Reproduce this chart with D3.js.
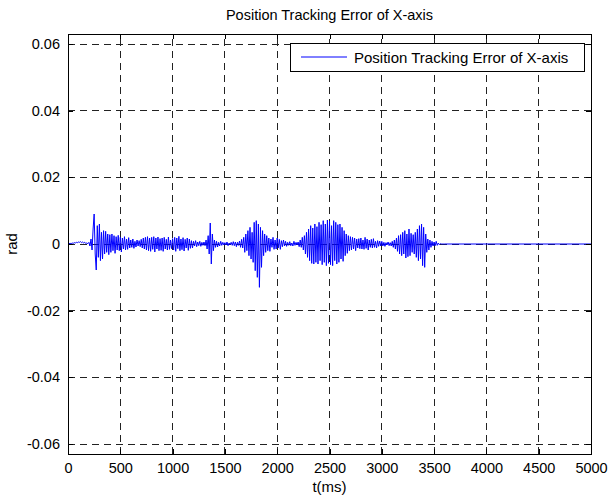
<!DOCTYPE html>
<html>
<head>
<meta charset="utf-8">
<script src="https://cdn.jsdelivr.net/npm/d3@7"></script>
<style>
  html, body { margin: 0; padding: 0; background: #fff; }
  svg { display: block; font-family: "Liberation Sans", Arial, Helvetica, sans-serif; }
</style>
</head>
<body>
<svg id="chart" width="608" height="499"></svg>
<script>
// tracking error, sampled every 10 ms from 0 to 3590 ms, in milli-radians
const sampleStep = 10;
const errorMrad = [
  0, 0.1, 0.2, 0.1, 0.3, 0.2, 0.4, 0.3, 0.5, 0.4,
  0.6, 0.5, 0.7, 0.4, 0.6, 0.3, 0.5, 0.2, 0.3, 0.1,
  0.5, -0.6, 1.5, -1.8, 4.5, 9.0, -3.0, -7.8, 5.5, -4.0,
  6.0, -5.0, 3.5, -4.5, 4.0, -3.0, 3.8, -2.5, 3.0, -3.2,
  2.8, -2.5, 3.0, -2.0, 2.5, -2.8, 2.2, -1.8, 2.6, -2.0,
  2.0, -2.4, 1.8, -1.5, 2.2, -1.8, 1.5, -1.6, 1.9, -1.2,
  1.2, -1.0, 1.5, -1.3, 0.8, -0.9, 1.2, -0.6, 1.0, -0.8,
  1.4, -1.2, 1.8, -1.5, 2.0, -1.8, 2.2, -2.0, 1.8, -2.2,
  2.0, -1.6, 2.2, -2.4, 1.8, -1.5, 2.1, -2.0, 1.6, -1.9,
  1.8, -2.2, 2.0, -1.5, 1.4, -1.8, 2.1, -1.6, 1.2, -1.4,
  1.6, -1.8, 2.0, -2.2, 1.8, -1.4, 2.3, -2.0, 1.5, -1.7,
  1.9, -2.1, 1.4, -1.2, 1.8, -1.9, 1.5, -1.3, 1.0, -1.2,
  0.8, -0.6, 1.0, -0.8, 0.6, -0.5, 0.8, -0.7, 0.5, -0.4,
  0.6, -0.5, 1.2, -1.5, 2.5, -3.0, 6.3, -6.0, 3.0, -2.0,
  1.2, -1.0, 0.8, -0.9, 0.5, -0.6, 0.8, -0.4, 0.5, -0.3,
  0.4, -0.3, 0.6, -0.5, 0.3, -0.2, 0.5, -0.4, 0.7, -0.5,
  0.6, -0.8, 0.5, -0.4, 0.9, -1.0, 1.4, -1.2, 2.0, -2.5,
  3.0, -2.0, 4.0, -3.5, 5.0, -4.5, 3.5, -5.5, 6.5, -8.0,
  7.0, -10.0, 6.0, -13.0, 5.0, -7.0, 4.0, -3.5, 3.0, -2.5,
  2.5, -2.0, 1.8, -2.2, 1.5, -1.0, 2.0, -1.6, 1.2, -1.5,
  1.8, -1.2, 1.4, -1.6, 1.0, -0.8, 1.2, -0.6, 0.8, -0.7,
  0.5, -0.4, 0.7, -0.5, 0.3, -0.6, 0.8, -0.4, 0.5, -0.3,
  0.6, -0.8, 1.2, -1.0, 2.0, -1.8, 2.5, -3.0, 3.5, -4.0,
  4.5, -5.0, 5.5, -5.8, 4.8, -6.0, 6.0, -5.5, 5.2, -6.0,
  6.5, -5.0, 5.8, -6.2, 7.0, -5.5, 6.0, -6.5, 7.2, -5.8,
  6.8, -6.2, 5.5, -6.5, 7.0, -5.0, 6.5, -6.0, 5.8, -5.5,
  6.0, -4.5, 5.0, -5.2, 4.0, -3.5, 3.0, -2.8, 2.5, -2.0,
  2.2, -1.8, 2.0, -1.5, 1.8, -2.0, 1.5, -1.2, 1.6, -1.4,
  1.8, -1.5, 1.2, -1.6, 2.0, -1.3, 1.5, -1.8, 1.2, -1.0,
  1.4, -1.2, 1.6, -1.0, 0.8, -1.2, 1.0, -0.7, 0.9, -0.6,
  0.8, -0.6, 0.5, -0.7, 0.4, -0.3, 0.6, -0.5, 0.4, -0.6,
  0.8, -1.0, 1.2, -1.5, 1.8, -2.2, 2.5, -3.0, 2.8, -3.5,
  3.5, -3.0, 4.0, -4.2, 3.0, -3.8, 4.5, -3.5, 3.2, -2.5,
  2.8, -3.0, 3.5, -4.0, 4.5, -5.0, 5.5, -4.5, 6.0, -6.5,
  5.0, -7.0, 3.0, -2.5, 1.5, -1.8, 1.2, -1.0, 0.8, -0.6,
  0.6, -0.5, 0.8, -0.4, 0.3, -0.2, 0.1, 0, 0, 0
];
// after the motion ends the error stays at zero
const tailTimes = [3600, 5000];
const tailValues = [0, 0];

const xTicks = [0, 500, 1000, 1500, 2000, 2500, 3000, 3500, 4000, 4500, 5000];
const yTicks = [-0.06, -0.04, -0.02, 0, 0.02, 0.04, 0.06];
const yTickLabels = ['-0.06', '-0.04', '-0.02', '0', '0.02', '0.04', '0.06'];

const titleText = 'Position Tracking Error of X-axis';
const legendText = 'Position Tracking Error of X-axis';

const svg = d3.select('#chart');
const m = { left: 68, right: 17, top: 34, bottom: 45 };
const W = 608, H = 499;
const pw = W - m.left - m.right, ph = H - m.top - m.bottom;

const x = d3.scaleLinear().domain([0, 5000]).range([0, pw]);
const y = d3.scaleLinear().domain([-0.063, 0.063]).range([ph, 0]);

let points = errorMrad.map((v, i) => [i * sampleStep, v / 1000]);
tailTimes.forEach((t, i) => points.push([t, tailValues[i]]));

const g = svg.append('g').attr('transform', `translate(${m.left},${m.top})`);

g.append('rect').attr('width', pw).attr('height', ph).attr('fill', '#fff');

// grid
g.append('g').selectAll('line').data(xTicks.slice(1, -1)).join('line')
  .attr('x1', d => x(d)).attr('x2', d => x(d))
  .attr('y1', ph).attr('y2', 0)
  .attr('stroke', '#222').attr('stroke-width', 1)
  .attr('stroke-dasharray', '7,5')
  .attr('shape-rendering', 'crispEdges');
g.append('g').selectAll('line').data(yTicks).join('line')
  .attr('x1', 0).attr('x2', pw)
  .attr('y1', d => y(d)).attr('y2', d => y(d))
  .attr('stroke', '#222').attr('stroke-width', 1)
  .attr('stroke-dasharray', '7,5')
  .attr('shape-rendering', 'crispEdges');

// signal
const line = d3.line().x(d => x(d[0])).y(d => y(d[1]));
g.append('path').datum(points)
  .attr('d', line)
  .attr('fill', 'none')
  .attr('stroke', '#0000ff')
  .attr('stroke-width', 1);

// axes with inward ticks on all four sides
const tickLen = 5;
const xb = g.append('g').attr('transform', `translate(0,${ph})`)
  .call(d3.axisBottom(x).tickValues(xTicks).tickSize(-tickLen).tickPadding(9).tickFormat(d3.format('d')));
const xt = g.append('g')
  .call(d3.axisTop(x).tickValues(xTicks).tickSize(-tickLen).tickFormat(''));
const yl = g.append('g')
  .call(d3.axisLeft(y).tickValues(yTicks).tickSize(-tickLen).tickPadding(8).tickFormat((d, i) => yTickLabels[i]));
const yr = g.append('g').attr('transform', `translate(${pw},0)`)
  .call(d3.axisRight(y).tickValues(yTicks).tickSize(-tickLen).tickFormat(''));

[xb, xt, yl, yr].forEach(a => {
  a.select('.domain').remove();
  a.selectAll('line').attr('stroke', '#000').attr('shape-rendering', 'crispEdges');
  a.selectAll('text').attr('fill', '#000').style('font-size', '14.5px')
    .style('font-family', '"Liberation Sans", Arial, sans-serif');
});

g.append('rect').attr('width', pw).attr('height', ph)
  .attr('fill', 'none').attr('stroke', '#000').attr('stroke-width', 1)
  .attr('shape-rendering', 'crispEdges');

// title and axis labels
svg.append('text').attr('x', m.left + pw / 2).attr('y', 20)
  .attr('text-anchor', 'middle').style('font-size', '14.5px').text(titleText);
svg.append('text').attr('x', m.left + pw / 2).attr('y', 492)
  .attr('text-anchor', 'middle').style('font-size', '15px').text('t(ms)');
svg.append('text').attr('transform', `translate(17,${m.top + y(0)}) rotate(-90)`)
  .attr('text-anchor', 'middle').style('font-size', '15px').text('rad');

// legend
const lg = svg.append('g').attr('transform', 'translate(290,43)');
lg.append('rect').attr('width', 294).attr('height', 28)
  .attr('fill', '#fff').attr('stroke', '#000').attr('stroke-width', 1)
  .attr('shape-rendering', 'crispEdges');
lg.append('line').attr('x1', 11).attr('x2', 57).attr('y1', 14).attr('y2', 14)
  .attr('stroke', '#0000ff').attr('stroke-width', 1);
lg.append('text').attr('x', 64).attr('y', 19.5).style('font-size', '15px').text(legendText);
</script>
</body>
</html>
